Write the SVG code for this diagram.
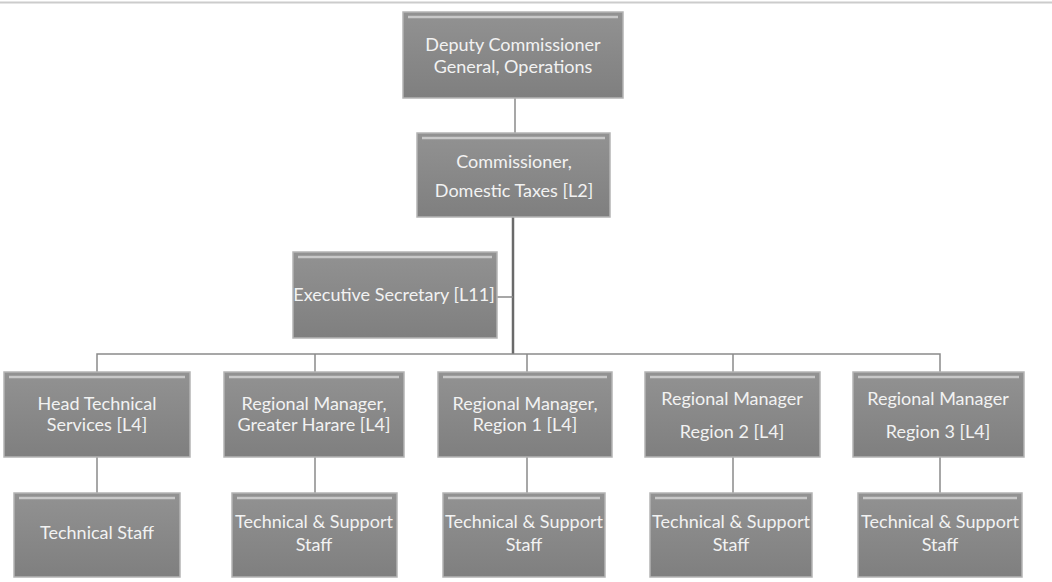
<svg xmlns="http://www.w3.org/2000/svg" width="1052" height="582" viewBox="0 0 1052 582">
<defs>
<linearGradient id="g" x1="0" y1="0" x2="0" y2="1">
<stop offset="0" stop-color="#929292"/>
<stop offset="1" stop-color="#7f7f7f"/>
</linearGradient>
<style>
.box{fill:url(#g);stroke:#b4b4b4;stroke-width:1.5}
.hl{fill:none;stroke:#c8c8c8;stroke-width:2.5}
.t{font-family:Lato,"Open Sans","Liberation Sans",sans-serif;font-size:18px;fill:#f2f2f2;text-anchor:middle}
.c{fill:none;stroke:#8a8a8a;stroke-width:1.5}
.ct{fill:none;stroke:#6a6a6a;stroke-width:2.5}
</style>
</defs>
<rect x="0" y="0" width="1052" height="582" fill="#ffffff"/>
<line x1="0" y1="2.5" x2="1052" y2="2.5" stroke="#cccccc" stroke-width="2"/>
<g id="connectors">
<line class="c" x1="515" y1="98" x2="515" y2="133"/>
<line class="ct" x1="513" y1="217" x2="513" y2="354"/>
<line class="c" x1="497" y1="297" x2="513" y2="297"/>
<polyline class="c" points="97,372 97,354 940,354 940,372"/>
<line class="c" x1="315" y1="354" x2="315" y2="372"/>
<line class="c" x1="527" y1="354" x2="527" y2="372"/>
<line class="c" x1="733" y1="354" x2="733" y2="372"/>
<line class="c" x1="97" y1="457" x2="97" y2="493"/>
<line class="c" x1="315" y1="457" x2="315" y2="493"/>
<line class="c" x1="527" y1="457" x2="527" y2="493"/>
<line class="c" x1="733" y1="457" x2="733" y2="493"/>
<line class="c" x1="940" y1="457" x2="940" y2="493"/>
</g>
<g id="deputy">
<rect class="box" x="403" y="12" width="220" height="86"/>
<line class="hl" x1="408" y1="17" x2="618" y2="17"/>
<text class="t" x="513" y="51">Deputy Commissioner</text>
<text class="t" x="513" y="73">General, Operations</text>
</g>
<g id="commissioner">
<rect class="box" x="417" y="133" width="193" height="84"/>
<line class="hl" x1="422" y1="138" x2="605" y2="138"/>
<text class="t" x="514" y="168">Commissioner,</text>
<text class="t" x="514" y="197">Domestic Taxes [L2]</text>
</g>
<g id="exec">
<rect class="box" x="293" y="252" width="204" height="86"/>
<line class="hl" x1="298" y1="257" x2="492" y2="257"/>
<text class="t" x="394" y="301">Executive Secretary [L11]</text>
</g>
<g id="head-tech">
<rect class="box" x="4" y="372" width="186" height="85"/>
<line class="hl" x1="9" y1="377" x2="185" y2="377"/>
<text class="t" x="97" y="410">Head Technical</text>
<text class="t" x="97" y="431">Services [L4]</text>
</g>
<g id="rm-harare">
<rect class="box" x="224" y="372" width="180" height="85"/>
<line class="hl" x1="229" y1="377" x2="399" y2="377"/>
<text class="t" x="314" y="410">Regional Manager,</text>
<text class="t" x="314" y="431">Greater Harare [L4]</text>
</g>
<g id="rm-region1">
<rect class="box" x="438" y="372" width="174" height="85"/>
<line class="hl" x1="443" y1="377" x2="607" y2="377"/>
<text class="t" x="525" y="410">Regional Manager,</text>
<text class="t" x="525" y="431">Region 1 [L4]</text>
</g>
<g id="rm-region2">
<rect class="box" x="645" y="372" width="175" height="85"/>
<line class="hl" x1="650" y1="377" x2="815" y2="377"/>
<text class="t" x="732" y="405">Regional Manager</text>
<text class="t" x="732" y="438">Region 2 [L4]</text>
</g>
<g id="rm-region3">
<rect class="box" x="853" y="372" width="171" height="85"/>
<line class="hl" x1="858" y1="377" x2="1019" y2="377"/>
<text class="t" x="938" y="405">Regional Manager</text>
<text class="t" x="938" y="438">Region 3 [L4]</text>
</g>
<g id="staff-tech">
<rect class="box" x="14" y="493" width="166" height="84"/>
<line class="hl" x1="19" y1="498" x2="175" y2="498"/>
<text class="t" x="97" y="539">Technical Staff</text>
</g>
<g id="staff-harare">
<rect class="box" x="232" y="493" width="165" height="84"/>
<line class="hl" x1="237" y1="498" x2="392" y2="498"/>
<text class="t" x="314" y="528">Technical &amp; Support</text>
<text class="t" x="314" y="551">Staff</text>
</g>
<g id="staff-region1">
<rect class="box" x="443" y="493" width="162" height="84"/>
<line class="hl" x1="448" y1="498" x2="600" y2="498"/>
<text class="t" x="524" y="528">Technical &amp; Support</text>
<text class="t" x="524" y="551">Staff</text>
</g>
<g id="staff-region2">
<rect class="box" x="650" y="493" width="162" height="84"/>
<line class="hl" x1="655" y1="498" x2="807" y2="498"/>
<text class="t" x="731" y="528">Technical &amp; Support</text>
<text class="t" x="731" y="551">Staff</text>
</g>
<g id="staff-region3">
<rect class="box" x="858" y="493" width="164" height="84"/>
<line class="hl" x1="863" y1="498" x2="1017" y2="498"/>
<text class="t" x="940" y="528">Technical &amp; Support</text>
<text class="t" x="940" y="551">Staff</text>
</g>
</svg>
